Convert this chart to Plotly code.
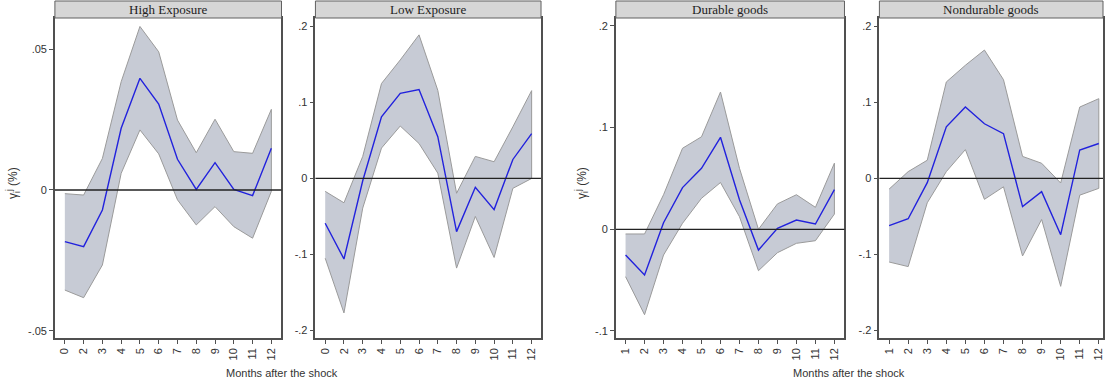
import plotly.graph_objects as go

# ---------------- data ----------------
months_a = ["0", "2", "3", "4", "5", "6", "7", "8", "9", "10", "11", "12"]
months_b = ["1", "2", "3", "4", "5", "6", "7", "8", "9", "10", "11", "12"]

high_irf = [-0.0183, -0.0201, -0.0071, 0.0219, 0.0396, 0.0305, 0.0109, 0.0002, 0.0097, 0.0002, -0.0020, 0.0148]
high_up = [-0.0013, -0.0018, 0.0112, 0.0384, 0.0580, 0.0490, 0.0248, 0.0132, 0.0251, 0.0136, 0.0130, 0.0286]
high_lo = [-0.0355, -0.0382, -0.0266, 0.0059, 0.0213, 0.0128, -0.0035, -0.0124, -0.0059, -0.0130, -0.0171, -0.0005]

low_irf = [-0.059, -0.106, -0.003, 0.081, 0.112, 0.117, 0.055, -0.070, -0.0116, -0.041, 0.025, 0.059]
low_up = [-0.017, -0.032, 0.029, 0.125, 0.156, 0.189, 0.116, -0.0195, 0.029, 0.022, 0.068, 0.1156]
low_lo = [-0.105, -0.177, -0.039, 0.040, 0.069, 0.046, 0.007, -0.118, -0.050, -0.104, -0.013, 0.000]

dur_irf = [-0.0253, -0.045, 0.0065, 0.041, 0.060, 0.0905, 0.029, -0.0204, 0.001, 0.0091, 0.0052, 0.039]
dur_up = [-0.0046, -0.0046, 0.034, 0.0797, 0.091, 0.135, 0.060, 0.000, 0.025, 0.034, 0.0216, 0.065]
dur_lo = [-0.0466, -0.084, -0.0253, 0.0059, 0.0305, 0.046, 0.0124, -0.0407, -0.023, -0.0138, -0.0112, 0.015]

nond_irf = [-0.062, -0.053, -0.0055, 0.068, 0.094, 0.072, 0.059, -0.037, -0.0174, -0.074, 0.0375, 0.046]
nond_up = [-0.014, 0.009, 0.024, 0.127, 0.149, 0.169, 0.130, 0.029, 0.020, -0.006, 0.094, 0.105]
nond_lo = [-0.110, -0.116, -0.032, 0.009, 0.038, -0.0275, -0.011, -0.102, -0.054, -0.142, -0.022, -0.013]

titles = ["High Exposure", "Low Exposure", "Durable goods", "Nondurable goods"]
ytick_a = [-0.05, 0, 0.05]
ytick_a_txt = ["-.05", "0", ".05"]
ytick_b = [-0.2, -0.1, 0, 0.1, 0.2]
ytick_b_txt = ["-.2", "-.1", "0", ".1", ".2"]
ytick_c = [-0.1, 0, 0.1, 0.2]
ytick_c_txt = ["-.1", "0", ".1", ".2"]
xtitle = "Months after the shock"
ytitle = "γ<sub>i</sub><sup>j</sup> (%)"

# ---------------- layout geometry ----------------
W, H = 1105, 385
def px_x(v):
    return v / W
def px_y(v):
    return (H - v) / H

panels = [
    dict(cats=months_a, irf=high_irf, up=high_up, lo=high_lo, dom=(55, 282), xr=(-0.53, 11.54),
         yr=(-0.0525, 0.061), yt=ytick_a, ytt=ytick_a_txt),
    dict(cats=months_a, irf=low_irf, up=low_up, lo=low_lo, dom=(316, 542), xr=(-0.52, 11.5),
         yr=(-0.21, 0.2112), yt=ytick_b, ytt=ytick_b_txt),
    dict(cats=months_b, irf=dur_irf, up=dur_up, lo=dur_lo, dom=(617, 846), xr=(-0.51, 11.53),
         yr=(-0.1069, 0.2078), yt=ytick_c, ytt=ytick_c_txt),
    dict(cats=months_b, irf=nond_irf, up=nond_up, lo=nond_lo, dom=(881, 1105), xr=(-0.51, 11.22),
         yr=(-0.21, 0.2112), yt=ytick_b, ytt=ytick_b_txt),
]

plot_top, plot_bot = 18, 338
ydom = [px_y(plot_bot), px_y(plot_top)]

fig = go.Figure()
shapes = []
annotations = []
axis_color = "#505050"
tick_font = dict(family="Liberation Sans, Arial, sans-serif", size=11, color="#333333")

for i, p in enumerate(panels):
    n = i + 1
    xa = "x" if n == 1 else f"x{n}"
    ya = "y" if n == 1 else f"y{n}"
    cats = p["cats"]
    # confidence band polygon
    fig.add_trace(go.Scatter(
        x=cats + cats[::-1], y=p["up"] + p["lo"][::-1],
        fill="toself", fillcolor="rgba(183,189,201,0.78)",
        line=dict(color="#9a9a9a", width=1), mode="lines",
        hoverinfo="skip", showlegend=False, xaxis=xa, yaxis=ya))
    # IRF line
    fig.add_trace(go.Scatter(
        x=cats, y=p["irf"], mode="lines",
        line=dict(color="#2222dd", width=1.4),
        showlegend=False, xaxis=xa, yaxis=ya))

    xkey = "xaxis" if n == 1 else f"xaxis{n}"
    ykey = "yaxis" if n == 1 else f"yaxis{n}"
    fig.update_layout({
        xkey: dict(domain=[px_x(p["dom"][0]), px_x(p["dom"][1])], anchor=ya, type="category",
                   range=list(p["xr"]), tickangle=-90, ticks="outside", ticklen=4,
                   tickcolor=axis_color, showline=True, linecolor=axis_color, linewidth=1.5,
                   mirror=True, showgrid=False, zeroline=False, tickfont=tick_font,
                   categoryorder="array", categoryarray=cats),
        ykey: dict(domain=ydom, anchor=xa, range=list(p["yr"]), tickvals=p["yt"],
                   ticktext=p["ytt"], ticks="outside", ticklen=4, tickcolor=axis_color,
                   showline=True, linecolor=axis_color, linewidth=1.5, mirror=True,
                   showgrid=False, zeroline=False, tickfont=tick_font),
    })
    # zero line
    shapes.append(dict(type="line", xref=f"{xa} domain", yref=ya, x0=0, x1=1, y0=0, y1=0,
                       line=dict(color="#222222", width=1.3), layer="above"))
    # strip header
    shapes.append(dict(type="rect", xref=f"{xa} domain", yref="paper", x0=0, x1=1,
                       y0=px_y(18), y1=px_y(1), fillcolor="#d6d6d6",
                       line=dict(color="#606060", width=1), layer="above"))
    annotations.append(dict(text=titles[i], xref=f"{xa} domain", yref="paper", x=0.5,
                            y=px_y(9.5), showarrow=False, xanchor="center", yanchor="middle",
                            font=dict(family="Liberation Serif, Times New Roman, serif", size=13,
                                      color="#222222")))

# y axis titles
for xc in (13, 583):
    annotations.append(dict(text=ytitle, xref="paper", yref="paper", x=px_x(xc), y=px_y(183),
                            showarrow=False, textangle=-90, xanchor="center", yanchor="middle",
                            font=dict(family="Liberation Sans, Arial, sans-serif", size=12,
                                      color="#333333")))
# x axis titles
for xc in (283, 851):
    annotations.append(dict(text=xtitle, xref="paper", yref="paper", x=px_x(xc), y=px_y(373),
                            showarrow=False, xanchor="center", yanchor="middle",
                            font=dict(family="Liberation Sans, Arial, sans-serif", size=11,
                                      color="#333333")))

fig.update_layout(width=W, height=H, margin=dict(l=0, r=0, t=0, b=0),
                  paper_bgcolor="white", plot_bgcolor="white",
                  shapes=shapes, annotations=annotations, showlegend=False)

fig.write_html("out.html")
